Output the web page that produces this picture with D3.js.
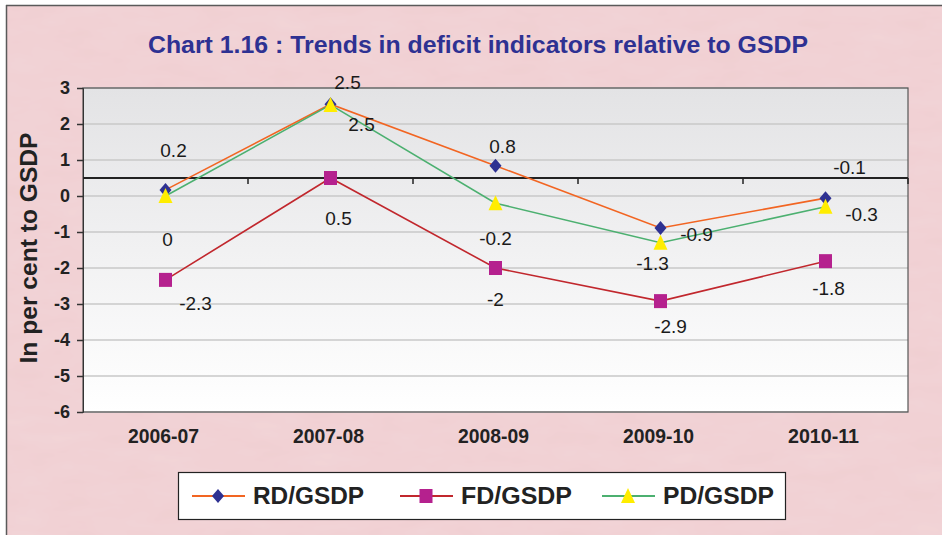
<!DOCTYPE html>
<html><head><meta charset="utf-8">
<script src="https://cdn.jsdelivr.net/npm/d3@7"></script>
<style>body{margin:0;background:#fff}svg{display:block}</style>
</head><body>
<script>
const categories = ["2006-07","2007-08","2008-09","2009-10","2010-11"];
const rdValues = [0.17, 2.55, 0.84, -0.89, -0.06];
const fdValues = [-2.33, 0.5, -2.0, -2.92, -1.81];
const pdValues = [0.0, 2.53, -0.2, -1.3, -0.3];
const rdLabels = ["0.2","2.5","0.8","-0.9","-0.1"];
const fdLabels = ["-2.3","0.5","-2","-2.9","-1.8"];
const pdLabels = ["0","2.5","-0.2","-1.3","-0.3"];
const yTicks = [3,2,1,0,-1,-2,-3,-4,-5,-6];
const axisCross = 0.5;
const seriesNames = ["RD/GSDP","FD/GSDP","PD/GSDP"];

const W = 942, H = 535;
const FONT = "Liberation Sans, Arial, sans-serif";
const svg = d3.select("body").append("svg").attr("width", W).attr("height", H);
const defs = svg.append("defs");
const g1 = defs.append("linearGradient").attr("id","plotGrad").attr("x1",0).attr("y1",0).attr("x2",0).attr("y2",1);
g1.append("stop").attr("offset","0%").attr("stop-color","#e3e3e5");
g1.append("stop").attr("offset","100%").attr("stop-color","#ffffff");
const f = defs.append("filter").attr("id","tex").attr("x",0).attr("y",0).attr("width","100%").attr("height","100%");
f.append("feTurbulence").attr("type","fractalNoise").attr("baseFrequency","0.02 0.06").attr("numOctaves",3).attr("seed",4).attr("result","n");
f.append("feColorMatrix").attr("in","n").attr("type","matrix")
  .attr("values","0 0 0 0 0.93  0 0 0 0 0.78  0 0 0 0 0.80  0 0 0 0.28 0").attr("result","c");
f.append("feComposite").attr("in","c").attr("in2","SourceGraphic").attr("operator","over");

// background
svg.append("rect").attr("x",6).attr("y",5).attr("width",W-6).attr("height",H-5).attr("fill","#f0ced1");
svg.append("rect").attr("x",6).attr("y",5).attr("width",W-6).attr("height",H-5).attr("fill","#f0ced1").attr("filter","url(#tex)");
svg.append("line").attr("x1",6).attr("x2",W).attr("y1",5.5).attr("y2",5.5).attr("stroke","#5a5a5a").attr("stroke-width",1.5);
svg.append("line").attr("x1",6.5).attr("x2",6.5).attr("y1",5).attr("y2",H).attr("stroke","#5a5a5a").attr("stroke-width",1.5);

const m = {left:83, right:908, top:88, bottom:412};
const x = d3.scaleBand().domain(categories).range([m.left, m.right]);
const y = d3.scaleLinear().domain([-6, 3]).range([m.bottom, m.top]);

// title
svg.append("text").attr("x",478).attr("y",53).attr("text-anchor","middle")
  .attr("font-family",FONT).attr("font-weight","bold").attr("font-size",24)
  .attr("fill","#2e3192").attr("textLength",660).attr("lengthAdjust","spacingAndGlyphs")
  .text("Chart 1.16 : Trends in deficit indicators relative to GSDP");

// plot area
svg.append("rect").attr("x",m.left).attr("y",m.top).attr("width",m.right-m.left).attr("height",m.bottom-m.top)
  .attr("fill","url(#plotGrad)");
svg.append("g").selectAll("line").data(yTicks).join("line")
  .attr("x1",m.left).attr("x2",m.right).attr("y1",d=>y(d)).attr("y2",d=>y(d))
  .attr("stroke","#c9c9c9").attr("stroke-width",1.5);
svg.append("rect").attr("x",m.left).attr("y",m.top).attr("width",m.right-m.left).attr("height",m.bottom-m.top)
  .attr("fill","none").attr("stroke","#555").attr("stroke-width",1.2);

// y axis
const yAxis = svg.append("g").attr("transform",`translate(${m.left},0)`)
  .call(d3.axisLeft(y).tickValues(yTicks).tickSize(6).tickPadding(7).tickFormat(d=>String(d)));
yAxis.select(".domain").attr("stroke","#333");
yAxis.selectAll(".tick line").attr("stroke","#333").attr("stroke-width",1.5);
yAxis.selectAll("text").attr("font-family",FONT).attr("font-weight","bold")
  .attr("font-size",18).attr("fill","#222");

svg.append("text").attr("transform","translate(37,248) rotate(-90)").attr("text-anchor","middle")
  .attr("font-family",FONT).attr("font-weight","bold").attr("font-size",23)
  .attr("textLength",231).attr("lengthAdjust","spacingAndGlyphs")
  .attr("fill","#222").text("In per cent to GSDP");

// x axis line at crossing
const xa = svg.append("g").attr("transform",`translate(0,${y(axisCross)})`);
xa.append("line").attr("x1",m.left).attr("x2",m.right).attr("stroke","#222").attr("stroke-width",2);
xa.selectAll(".tk").data(categories.slice(1).concat(["__end"])).join("line").attr("class","tk")
  .attr("x1",d=>d==="__end"?m.right:x(d)).attr("x2",d=>d==="__end"?m.right:x(d))
  .attr("y1",0).attr("y2",6).attr("stroke","#222").attr("stroke-width",1.5);

// x labels
svg.append("g").selectAll("text").data(categories).join("text")
  .attr("x",d=>x(d)+x.bandwidth()/2 - 2).attr("y",443).attr("text-anchor","middle")
  .attr("font-family",FONT).attr("font-weight","bold").attr("font-size",20)
  .attr("textLength",71).attr("lengthAdjust","spacingAndGlyphs")
  .attr("fill","#222").text(d=>d);

const cx = d=>x(d)+x.bandwidth()/2;
const series = [
  {vals:rdValues, labels:rdLabels, color:"#f26522", mfill:"#2e3192", shape:"diamond"},
  {vals:fdValues, labels:fdLabels, color:"#c1272d", mfill:"#b5218e", shape:"square"},
  {vals:pdValues, labels:pdLabels, color:"#4cb070", mfill:"#ffed00", shape:"triangle"}
];
function marker(sel, shape){
  if(shape==="diamond") sel.append("path").attr("d","M0,-7L6,0L0,7L-6,0Z");
  else if(shape==="square") sel.append("rect").attr("x",-6.5).attr("y",-7).attr("width",13).attr("height",14);
  else sel.append("path").attr("d","M0,-8L7,7L-7,7Z");
}
const line = d3.line().x((d,i)=>cx(categories[i])).y(d=>y(d));
[1,0,2].forEach(k=>{
  const s = series[k];
  svg.append("path").datum(s.vals).attr("d",line).attr("fill","none").attr("stroke",s.color).attr("stroke-width",1.6);
});
[1,0,2].forEach(k=>{
  const s = series[k];
  s.vals.forEach((v,i)=>{
    const gm = svg.append("g").attr("transform",`translate(${cx(categories[i])},${y(v)})`).attr("fill",s.mfill);
    marker(gm, s.shape);
  });
});

// data labels (offsets relative to point)
const labelOffsets = [
  [[8,-40],[17,-22],[7,-20],[36,6],[24,-31]],
  [[30,23],[8,40],[0,31],[10,25],[3,27]],
  [[2,43],[31,19],[0,35],[-8,20],[36,7]]
];
series.forEach((s,k)=>{
  s.vals.forEach((v,i)=>{
    svg.append("text").attr("x",cx(categories[i])+labelOffsets[k][i][0]).attr("y",y(v)+labelOffsets[k][i][1]+7)
      .attr("text-anchor","middle").attr("font-family",FONT).attr("font-size",19)
      .attr("fill","#1a1a1a").text(s.labels[i]);
  });
});

// legend
const lg = svg.append("g");
lg.append("rect").attr("x",178.5).attr("y",472.5).attr("width",607).attr("height",47)
  .attr("fill","#fff").attr("stroke","#222").attr("stroke-width",1.2);
const legX = [192, 400, 602];
series.forEach((s,k)=>{
  const gx = legX[k], gy = 496;
  lg.append("line").attr("x1",gx).attr("x2",gx+53).attr("y1",gy).attr("y2",gy).attr("stroke",s.color).attr("stroke-width",2);
  const gm = lg.append("g").attr("transform",`translate(${gx+26},${gy})`).attr("fill",s.mfill);
  marker(gm, s.shape);
  lg.append("text").attr("x",gx+61).attr("y",gy+8).attr("font-family",FONT)
    .attr("font-weight","bold").attr("font-size",23).attr("textLength",111).attr("lengthAdjust","spacingAndGlyphs")
    .attr("fill","#222").text(seriesNames[k]);
});
</script>
</body></html>
